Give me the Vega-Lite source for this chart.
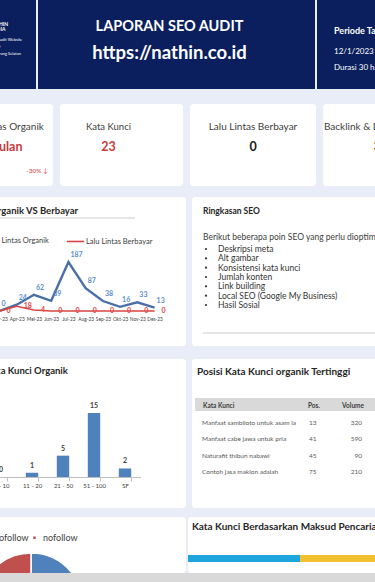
{
  "$schema": "https://vega.github.io/schema/vega-lite/v6.json",
  "padding": {"left": -75, "top": 0, "right": 0, "bottom": 0},
  "background": "#e8edf7",
  "config": {
    "view": {"stroke": null},
    "font": "Lato",
    "title": {"font": "Lato", "subtitleFont": "Lato", "frame": "group", "anchor": "start", "color": "#262626", "fontWeight": "bold"},
    "axis": {"labelFont": "Lato", "titleFont": "Lato"},
    "legend": {"labelFont": "Lato", "titleFont": "Lato"}
  },
  "spacing": 15,
  "resolve": {"scale": {"color": "independent", "strokeWidth": "independent"}, "legend": {"color": "independent", "strokeWidth": "independent"}},
  "vconcat": [
    {
      "spacing": 2,
      "hconcat": [
        {
          "width": 111, "height": 89, "view": {"fill": "#0b1f5e"},
          "data": {"values": []}, "mark": "point",
          "title": {"text": ["NATHIN", "MEDIA"], "subtitle": ["Jasa Audit Website", "& SEO", "Tangerang Selatan"], "anchor": "start", "dx": 64, "fontSize": 5, "lineHeight": 5, "color": "white", "subtitleColor": "white", "subtitleFontSize": 4, "subtitleLineHeight": 7, "subtitlePadding": 6, "offset": -56}
        },
        {
          "width": 277, "height": 89, "view": {"fill": "#0b1f5e"},
          "data": {"values": []}, "mark": "point",
          "title": {"text": "LAPORAN SEO AUDIT", "subtitle": "https://nathin.co.id", "anchor": "middle", "dx": -7, "fontSize": 14.5, "color": "white", "subtitleColor": "white", "subtitleFontSize": 18.5, "subtitleFontWeight": "bold", "subtitlePadding": 9, "offset": -63}
        },
        {
          "width": 80, "height": 89, "view": {"fill": "#0b1f5e"},
          "data": {"values": []}, "mark": "point",
          "title": {"text": "Periode Tanggal", "subtitle": ["12/1/2023 - 12/31/2023", "Durasi 30 hari"], "anchor": "start", "dx": 17, "fontSize": 9, "color": "white", "subtitleColor": "white", "subtitleFontSize": 8, "subtitleLineHeight": 16, "subtitlePadding": 12, "offset": -72}
        }
      ]
    },
    {
      "spacing": 11,
      "resolve": {"scale": {"color": "independent", "strokeWidth": "independent"}, "legend": {"color": "independent", "strokeWidth": "independent"}},
      "vconcat": [
        {
          "spacing": 7,
          "hconcat": [
            {
              "width": 128, "height": 82, "view": {"fill": "white", "cornerRadius": 3},
              "title": {"text": "Lalu Lintas Organik", "subtitle": "3 bulan", "anchor": "middle", "dx": 13, "fontSize": 10, "fontWeight": "normal", "color": "#404040", "subtitleColor": "#c93a3a", "subtitleFontSize": 12.5, "subtitleFontWeight": "bold", "subtitlePadding": 9, "offset": -49},
              "data": {"values": [{"perubahan": "-30% ↓"}]},
              "mark": {"type": "text", "x": "width", "dx": -5, "y": "height", "dy": -15, "align": "right", "fontSize": 6.5, "color": "#e03c3c"},
              "encoding": {"text": {"field": "perubahan"}}
            },
            {
              "width": 123, "height": 82, "view": {"fill": "white", "cornerRadius": 3},
              "data": {"values": []}, "mark": "point",
              "title": {"text": "Kata Kunci", "subtitle": "23", "anchor": "middle", "dx": -13, "fontSize": 9.5, "fontWeight": "normal", "color": "#404040", "subtitleColor": "#c93a3a", "subtitleFontSize": 12.5, "subtitleFontWeight": "bold", "subtitlePadding": 9.5, "offset": -49}
            },
            {
              "width": 126, "height": 82, "view": {"fill": "white", "cornerRadius": 3},
              "data": {"values": []}, "mark": "point",
              "title": {"text": "Lalu Lintas Berbayar", "subtitle": "0", "anchor": "middle", "fontSize": 10, "fontWeight": "normal", "color": "#404040", "subtitleColor": "#1a1a1a", "subtitleFontSize": 12.5, "subtitleFontWeight": "bold", "subtitlePadding": 9, "offset": -49}
            },
            {
              "width": 123, "height": 82, "view": {"fill": "white", "cornerRadius": 3},
              "data": {"values": []}, "mark": "point",
              "title": {"text": "Backlink & Domain Rujukan", "subtitle": "312", "anchor": "middle", "fontSize": 10, "fontWeight": "normal", "color": "#404040", "subtitleColor": "#1a1a1a", "subtitleFontSize": 12.5, "subtitleFontWeight": "bold", "subtitlePadding": 9, "offset": -49}
            }
          ]
        },
        {
          "spacing": 13,
          "resolve": {"scale": {"color": "independent", "strokeWidth": "independent"}, "legend": {"color": "independent", "strokeWidth": "independent"}},
          "vconcat": [
            {
              "spacing": 6,
              "resolve": {"scale": {"color": "independent", "strokeWidth": "independent"}, "legend": {"color": "independent", "strokeWidth": "independent"}},
              "hconcat": [
                {
                  "width": 261, "height": 149, "view": {"fill": "white", "cornerRadius": 3},
                  "title": {"text": "Lalu Lintas Organik VS Berbayar", "anchor": "start", "dx": 18, "fontSize": 9.5, "offset": -18},
                  "layer": [
                    {
                      "data": {"values": [{"garis": "judul"}]},
                      "mark": {"type": "rule", "color": "#bfbfbf", "strokeWidth": 0.8},
                      "encoding": {"x": {"value": 18}, "x2": {"value": 210}, "y": {"value": 21}, "y2": {"value": 21}}
                    },
                    {
                      "data": {"values": [
                        {"bulan": "Mar-23", "seri": "Lalu Lintas Organik", "nilai": 0},
                        {"bulan": "Apr-23", "seri": "Lalu Lintas Organik", "nilai": 24},
                        {"bulan": "Mei-23", "seri": "Lalu Lintas Organik", "nilai": 62},
                        {"bulan": "Jun-23", "seri": "Lalu Lintas Organik", "nilai": 39},
                        {"bulan": "Jul-23", "seri": "Lalu Lintas Organik", "nilai": 187},
                        {"bulan": "Aug-23", "seri": "Lalu Lintas Organik", "nilai": 87},
                        {"bulan": "Sep-23", "seri": "Lalu Lintas Organik", "nilai": 38},
                        {"bulan": "Okt-23", "seri": "Lalu Lintas Organik", "nilai": 16},
                        {"bulan": "Nov-23", "seri": "Lalu Lintas Organik", "nilai": 33},
                        {"bulan": "Des-23", "seri": "Lalu Lintas Organik", "nilai": 13},
                        {"bulan": "Mar-23", "seri": "Lalu Lintas Berbayar", "nilai": 0},
                        {"bulan": "Apr-23", "seri": "Lalu Lintas Berbayar", "nilai": 18},
                        {"bulan": "Mei-23", "seri": "Lalu Lintas Berbayar", "nilai": 4},
                        {"bulan": "Jun-23", "seri": "Lalu Lintas Berbayar", "nilai": 0},
                        {"bulan": "Jul-23", "seri": "Lalu Lintas Berbayar", "nilai": 0},
                        {"bulan": "Aug-23", "seri": "Lalu Lintas Berbayar", "nilai": 0},
                        {"bulan": "Sep-23", "seri": "Lalu Lintas Berbayar", "nilai": 0},
                        {"bulan": "Okt-23", "seri": "Lalu Lintas Berbayar", "nilai": 0},
                        {"bulan": "Nov-23", "seri": "Lalu Lintas Berbayar", "nilai": 0},
                        {"bulan": "Des-23", "seri": "Lalu Lintas Berbayar", "nilai": 0}
                      ]},
                      "encoding": {
                        "x": {"field": "bulan", "type": "ordinal", "sort": null,
                          "scale": {"type": "point", "domain": ["Jan-23", "Feb-23", "Mar-23", "Apr-23", "Mei-23", "Jun-23", "Jul-23", "Aug-23", "Sep-23", "Okt-23", "Nov-23", "Des-23"], "range": [31.4, 238.2]},
                          "axis": {"title": null, "orient": "bottom", "offset": -32, "domain": false, "ticks": false, "labelAngle": 0, "labelFontSize": 4.8, "labelColor": "#404040", "labelPadding": 2, "labelOverlap": false}},
                        "y": {"field": "nilai", "type": "quantitative", "scale": {"domain": [0, 187], "range": [114, 65], "nice": false}, "axis": null}
                      },
                      "layer": [
                        {
                          "mark": {"type": "line"},
                          "encoding": {
                            "color": {"field": "seri", "type": "nominal", "scale": {"domain": ["Lalu Lintas Organik", "Lalu Lintas Berbayar"], "range": ["#4a6fa8", "#d94444"]},
                              "legend": {"orient": "none", "legendX": 40, "legendY": 34, "direction": "horizontal", "title": null, "symbolType": "stroke", "symbolSize": 300, "symbolStrokeWidth": 2, "labelFontSize": 7.5, "labelColor": "#404040", "columnPadding": 14, "labelOffset": 1}},
                            "strokeWidth": {"field": "seri", "type": "nominal", "scale": {"domain": ["Lalu Lintas Organik", "Lalu Lintas Berbayar"], "range": [2.4, 1.6]}, "legend": null}
                          }
                        },
                        {
                          "transform": [{"filter": "datum.seri == 'Lalu Lintas Organik'"}],
                          "mark": {"type": "text", "align": "left", "dx": 2, "dy": -7, "fontSize": 7, "fontWeight": "bold", "color": "#5b8fd0"},
                          "encoding": {"text": {"field": "nilai"}}
                        },
                        {
                          "transform": [{"filter": "datum.seri == 'Lalu Lintas Berbayar'"}],
                          "mark": {"type": "text", "align": "left", "dx": 7, "fontSize": 7, "fontWeight": "bold", "color": "#e04848"},
                          "encoding": {"text": {"field": "nilai"}}
                        }
                      ]
                    }
                  ]
                },
                {
                  "width": 188, "height": 149, "view": {"fill": "white", "cornerRadius": 3},
                  "title": {"text": "Ringkasan SEO", "subtitle": "Berikut beberapa poin SEO yang perlu dioptimalkan", "anchor": "start", "dx": 11, "fontSize": 8.5, "subtitleFontSize": 8.5, "subtitleColor": "#404040", "subtitlePadding": 17, "offset": -44},
                  "layer": [
                    {
                      "data": {"values": [{"garis": "penutup"}]},
                      "mark": {"type": "rule", "color": "#bfbfbf", "strokeWidth": 0.8},
                      "encoding": {"x": {"value": 11}, "x2": {"value": 188}, "y": {"value": 136}, "y2": {"value": 136}}
                    },
                    {
                      "data": {"values": [
                        {"poin": "Deskripsi meta"},
                        {"poin": "Alt gambar"},
                        {"poin": "Konsistensi kata kunci"},
                        {"poin": "Jumlah konten"},
                        {"poin": "Link building"},
                        {"poin": "Local SEO (Google  My Business)"},
                        {"poin": "Hasil Sosial"}
                      ]},
                      "encoding": {"y": {"field": "poin", "type": "nominal", "sort": null, "scale": {"type": "point", "range": [52, 108], "padding": 0}, "axis": null}},
                      "layer": [
                        {"mark": {"type": "circle", "x": 14, "size": 5, "color": "#333333", "opacity": 1}},
                        {"mark": {"type": "text", "x": 26, "align": "left", "fontSize": 8.5, "color": "#333333"}, "encoding": {"text": {"field": "poin"}}}
                      ]
                    }
                  ]
                }
              ]
            },
            {
              "spacing": 9,
              "resolve": {"scale": {"color": "independent", "strokeWidth": "independent"}, "legend": {"color": "independent", "strokeWidth": "independent"}},
              "vconcat": [
                {
                  "spacing": 6,
                  "hconcat": [
                    {
                      "width": 261, "height": 149, "view": {"fill": "white", "cornerRadius": 3},
                      "title": {"text": "Distribusi Kata Kunci Organik", "anchor": "start", "dx": 18, "fontSize": 9.5, "offset": -16},
                      "data": {"values": [
                        {"posisi": "1 - 10", "jumlah": 0},
                        {"posisi": "11 - 20", "jumlah": 1},
                        {"posisi": "21 - 50", "jumlah": 5},
                        {"posisi": "51 - 100", "jumlah": 15},
                        {"posisi": "SF", "jumlah": 2}
                      ]},
                      "encoding": {
                        "x": {"field": "posisi", "type": "nominal", "sort": null,
                          "scale": {"type": "band", "range": [60.5, 215.5], "paddingInner": 0.6, "paddingOuter": 0.3},
                          "axis": {"title": null, "orient": "bottom", "offset": -31, "labelAngle": 0, "domainColor": "#bfbfbf", "tickColor": "#bfbfbf", "tickBand": "extent", "tickSize": 4, "labelFontSize": 6, "labelColor": "#404040", "labelPadding": 1}},
                        "y": {"field": "jumlah", "type": "quantitative", "scale": {"domain": [0, 15], "range": [118, 54], "nice": false}, "axis": null}
                      },
                      "layer": [
                        {"mark": {"type": "bar", "color": "#4f81bd"}},
                        {"mark": {"type": "text", "dy": -7, "fontSize": 7, "fontWeight": "bold", "color": "#404040"}, "encoding": {"text": {"field": "jumlah"}}}
                      ]
                    },
                    {
                      "width": 188, "height": 149, "view": {"fill": "white", "cornerRadius": 3},
                      "title": {"text": "Posisi Kata Kunci organik Tertinggi", "anchor": "start", "dx": 5, "fontSize": 10, "offset": -18},
                      "data": {"values": [
                        {"baris": "h", "kw": "Kata Kunci", "pos": "Pos.", "vol": "Volume"},
                        {"baris": "1", "kw": "Manfaat sambiloto untuk asam la", "pos": "13", "vol": "320"},
                        {"baris": "2", "kw": "Manfaat cabe jawa untuk pria", "pos": "41", "vol": "590"},
                        {"baris": "3", "kw": "Naturafit thibun nabawi", "pos": "45", "vol": "90"},
                        {"baris": "4", "kw": "Contoh jasa maklon adalah", "pos": "75", "vol": "210"}
                      ]},
                      "layer": [
                        {
                          "transform": [{"filter": "datum.baris == 'h'"}],
                          "mark": {"type": "rect", "x": 3, "x2": "width", "y": 39, "y2": 52, "color": "#d9d9d9"}
                        },
                        {
                          "transform": [{"filter": "datum.baris == 'h'"}],
                          "encoding": {"y": {"field": "baris", "type": "nominal", "sort": null, "scale": {"type": "point", "domain": ["h", "1", "2", "3", "4"], "range": [47, 113], "padding": 0}, "axis": null}},
                          "layer": [
                            {"mark": {"type": "text", "x": 11, "align": "left", "fontSize": 6.5, "fontWeight": "bold", "color": "#404040"}, "encoding": {"text": {"field": "kw"}}},
                            {"mark": {"type": "text", "x": 116, "align": "left", "fontSize": 6.5, "fontWeight": "bold", "color": "#404040"}, "encoding": {"text": {"field": "pos"}}},
                            {"mark": {"type": "text", "x": 172, "align": "right", "fontSize": 6.5, "fontWeight": "bold", "color": "#404040"}, "encoding": {"text": {"field": "vol"}}}
                          ]
                        },
                        {
                          "transform": [{"filter": "datum.baris != 'h'"}],
                          "encoding": {"y": {"field": "baris", "type": "nominal", "sort": null, "scale": {"type": "point", "domain": ["h", "1", "2", "3", "4"], "range": [47, 113], "padding": 0}, "axis": null}},
                          "layer": [
                            {"mark": {"type": "text", "x": 10, "align": "left", "fontSize": 6.5, "color": "#595959"}, "encoding": {"text": {"field": "kw"}}},
                            {"mark": {"type": "text", "x": 117, "align": "left", "fontSize": 6.5, "color": "#595959"}, "encoding": {"text": {"field": "pos"}}},
                            {"mark": {"type": "text", "x": 170, "align": "right", "fontSize": 6.5, "color": "#595959"}, "encoding": {"text": {"field": "vol"}}}
                          ]
                        }
                      ]
                    }
                  ]
                },
                {
                  "spacing": 0,
                  "resolve": {"scale": {"color": "independent", "strokeWidth": "independent"}, "legend": {"color": "independent", "strokeWidth": "independent"}},
                  "vconcat": [
                    {
                      "spacing": 2,
                      "resolve": {"scale": {"color": "independent", "strokeWidth": "independent"}, "legend": {"color": "independent", "strokeWidth": "independent"}},
                      "hconcat": [
                        {
                          "width": 261, "height": 56, "view": {"fill": "white", "cornerRadius": 3},
                          "data": {"values": [
                            {"jenis": "dofollow", "persen": 55},
                            {"jenis": "nofollow", "persen": 45}
                          ]},
                          "mark": {"type": "arc", "x": 106, "y": 88, "outerRadius": 52, "clip": true, "stroke": "white", "strokeWidth": 1.5},
                          "encoding": {
                            "theta": {"field": "persen", "type": "quantitative"},
                            "order": {"field": "jenis", "type": "nominal"},
                            "color": {"field": "jenis", "type": "nominal", "scale": {"domain": ["dofollow", "nofollow"], "range": ["#4f81bd", "#c0504d"]},
                              "legend": {"orient": "none", "legendX": 56, "legendY": 16, "direction": "horizontal", "title": null, "symbolType": "square", "symbolSize": 16, "labelFontSize": 9, "labelColor": "#404040", "columnPadding": 0, "labelOffset": 4}}
                          }
                        },
                        {
                          "width": 190, "height": 56, "view": {"fill": "white", "cornerRadius": 3},
                          "title": {"text": "Kata Kunci Berdasarkan Maksud Pencarian", "anchor": "start", "dx": 4, "fontSize": 10, "offset": -15},
                          "data": {"values": [
                            {"maksud": "Informasional", "persen": 59},
                            {"maksud": "Komersial", "persen": 41}
                          ]},
                          "mark": {"type": "bar"},
                          "encoding": {
                            "x": {"field": "persen", "type": "quantitative", "stack": "zero", "scale": {"domain": [0, 100], "nice": false}, "axis": null},
                            "y": {"datum": "Maksud Pencarian", "type": "nominal", "scale": {"type": "band", "range": [38, 45], "paddingInner": 0, "paddingOuter": 0}, "axis": null},
                            "order": {"field": "maksud", "type": "nominal"},
                            "color": {"field": "maksud", "type": "nominal", "scale": {"domain": ["Informasional", "Komersial"], "range": ["#1ea5dd", "#f3c12f"]}, "legend": null}
                          }
                        }
                      ]
                    },
                    {
                      "width": 455, "height": 9, "view": {"fill": "#d9d9d9"},
                      "data": {"values": []}, "mark": "point"
                    }
                  ]
                }
              ]
            }
          ]
        }
      ]
    }
  ]
}
